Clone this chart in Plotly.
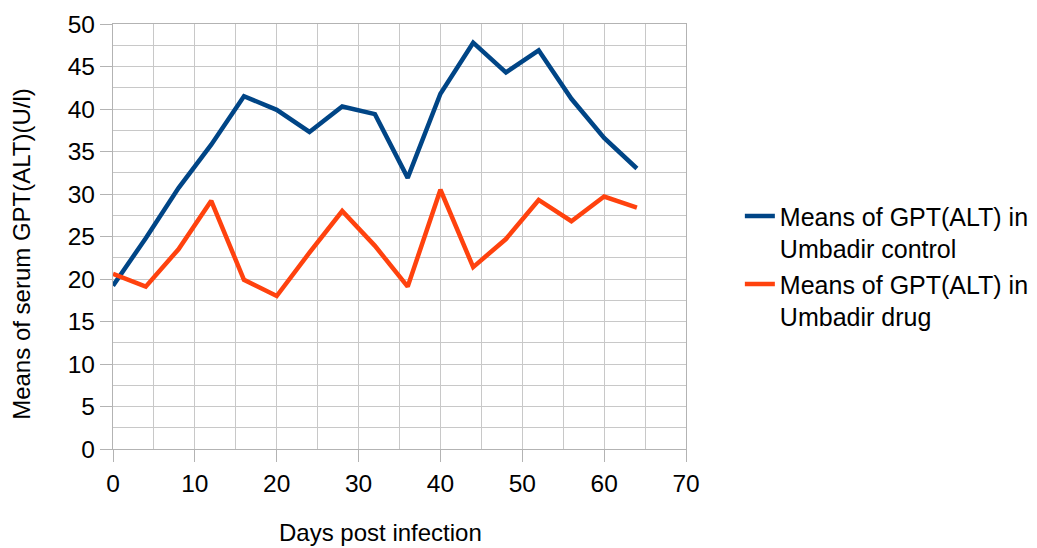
import plotly.graph_objects as go

days = [0, 4, 8, 12, 16, 20, 24, 28, 32, 36, 40, 44, 48, 52, 56, 60, 64]
control = [19.2, 24.8, 30.7, 35.8, 41.5, 39.9, 37.3, 40.3, 39.4, 31.9,
           41.8, 47.8, 44.3, 46.9, 41.2, 36.6, 33.0]
drug = [20.6, 19.1, 23.5, 29.2, 19.9, 18.0, 23.1, 28.0, 23.9, 19.1,
        30.5, 21.4, 24.7, 29.3, 26.8, 29.7, 28.4]
series_names = ["Means of GPT(ALT) in<br>Umbadir control",
                "Means of GPT(ALT) in<br>Umbadir drug"]
x_title = "Days post infection"
y_title = "Means of serum GPT(ALT)(U/l)"

FONT = "Liberation Sans, Arial, sans-serif"
GRID = "#c8c8c8"
AXIS = "#b3b3b3"

fig = go.Figure()
fig.add_trace(go.Scatter(x=days, y=control, mode="lines", name=series_names[0],
                         line=dict(color="#004586", width=4.5)))
fig.add_trace(go.Scatter(x=days, y=drug, mode="lines", name=series_names[1],
                         line=dict(color="#ff420e", width=4.5)))

fig.update_layout(
    width=1029, height=540,
    margin=dict(l=105, r=351, t=16, b=99, autoexpand=False),
    paper_bgcolor="white", plot_bgcolor="white",
    font=dict(family=FONT, size=24, color="#000000"),
    showlegend=True,
    legend=dict(x=1.094, y=0.43, xanchor="left", yanchor="middle",
                itemwidth=30, font=dict(size=25), tracegroupgap=6,
                valign="top", bgcolor="rgba(0,0,0,0)"),
    annotations=[
        dict(text=x_title, xref="paper", yref="paper", x=0.467, y=-0.197,
             yanchor="middle", showarrow=False, font=dict(size=24)),
        dict(text=y_title, xref="paper", yref="paper", x=-0.159, y=0.459,
             textangle=-90, xanchor="center", yanchor="middle",
             showarrow=False, font=dict(size=24)),
    ],
)

fig.update_xaxes(range=[0, 70], dtick=10, tick0=0, showgrid=True, gridcolor=GRID,
                 gridwidth=1.3, zeroline=False, showline=True, linecolor=AXIS,
                 linewidth=1.3, mirror=True, ticks="outside", ticklen=12,
                 tickcolor=AXIS, tickwidth=1.3,
                 minor=dict(dtick=5, showgrid=True, gridcolor=GRID, gridwidth=1.3),
                 tickfont=dict(size=24.5))
fig.update_yaxes(range=[0, 50], dtick=5, tick0=0, showgrid=True, gridcolor=GRID,
                 gridwidth=1.3, zeroline=False, showline=True, linecolor=AXIS,
                 linewidth=1.3, mirror=True, ticks="outside", ticklen=12,
                 tickcolor=AXIS, tickwidth=1.3,
                 minor=dict(dtick=2.5, showgrid=True, gridcolor=GRID, gridwidth=1.3),
                 tickfont=dict(size=24.5))

fig.write_html("out.html")
